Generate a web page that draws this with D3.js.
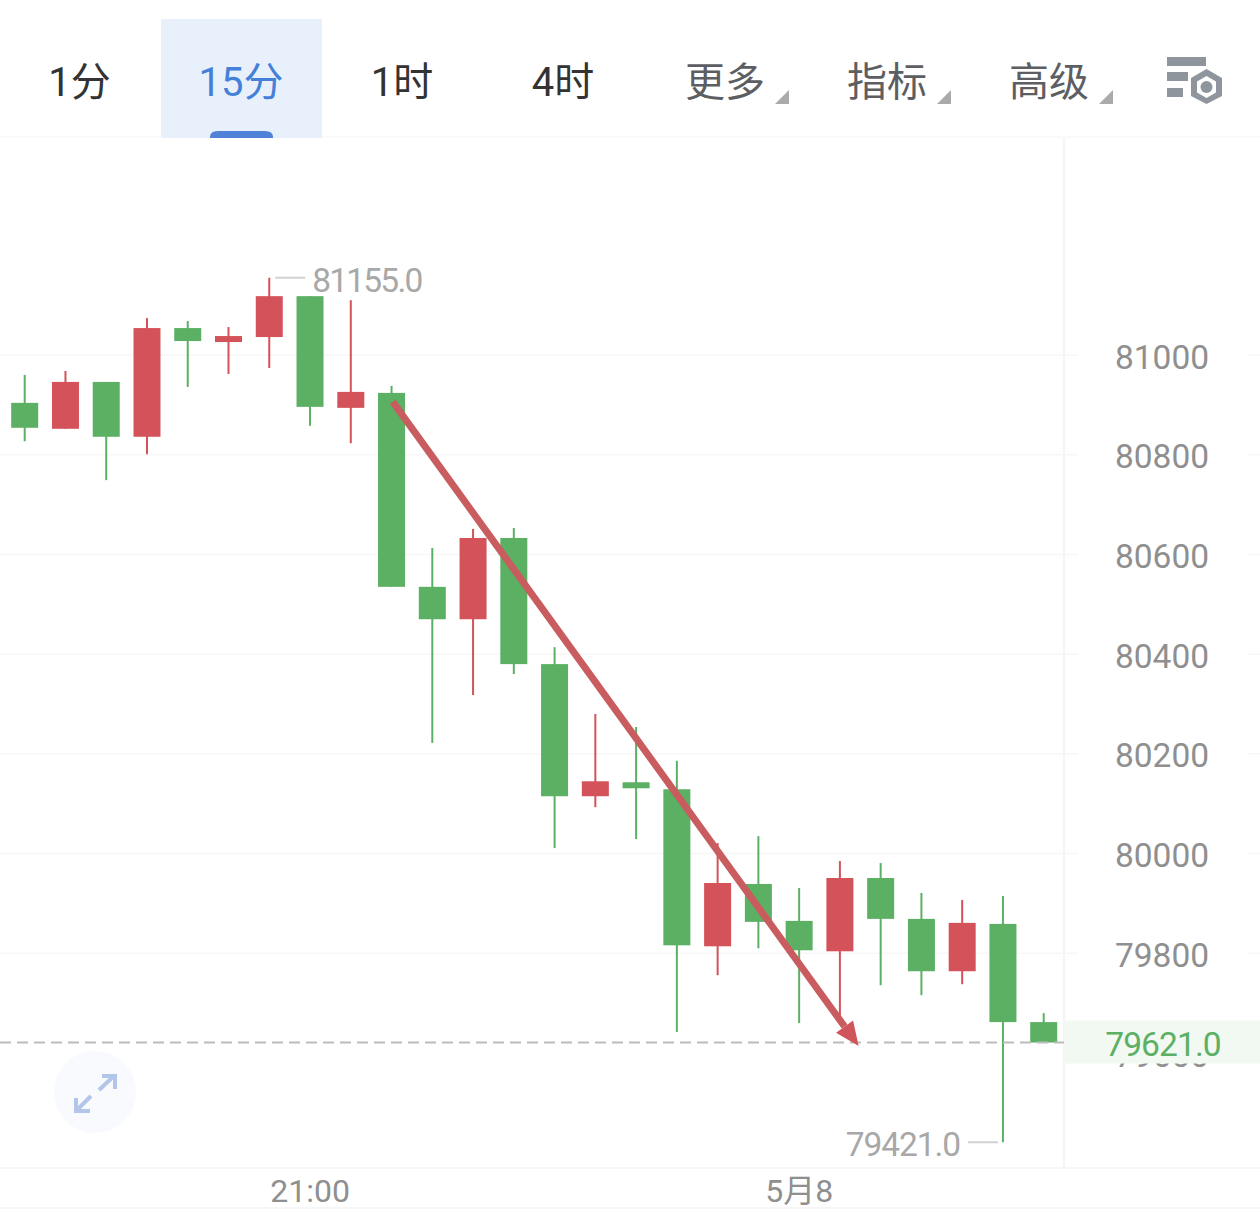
<!DOCTYPE html>
<html><head><meta charset="utf-8">
<script src="https://cdn.jsdelivr.net/npm/d3@7/dist/d3.min.js"></script>
<style>html,body{margin:0;padding:0;background:#fff;overflow:hidden}svg{display:block}text{font-family:Roboto,"Noto Sans CJK SC",sans-serif}</style>
</head><body><svg id="c" width="1260" height="1212"></svg>
<script>
const tabs = ["1分","15分","1时","4时","更多","指标","高级"];
const opens  = [80904,80852,80946,80836,81054,81026,81036,81118,80894,80924,80535,80470,80633,80380,80115,80143,80129,79814,79939,79865,79804,79951,79869,79764,79859,79662];
const highs  = [80960,80968,80946,81074,81068,81056,81155,81118,81110,80938,80613,80651,80653,80414,80280,80254,80186,80021,80035,79931,79985,79981,79921,79907,79915,79680];
const lows   = [80827,80852,80749,80801,80936,80962,80974,80858,80823,80535,80222,80318,80360,80011,80093,80029,79642,79756,79810,79660,79666,79736,79716,79738,79421,79621];
const closes = [80854,80946,80836,81054,81028,81038,81118,80896,80926,80535,80470,80633,80380,80115,80145,80131,79816,79941,79863,79806,79951,79869,79764,79861,79662,79621];
const yTicks = [81000,80800,80600,80400,80200,80000,79800,79600];
const gridTicks = [81000,80800,80600,80400,80200,80000,79800];
const timeTicks = [[7,"21:00"],[19,"5月8"]];
const lastPrice = 79621, highMark = 81155, lowMark = 79421;
const arrowFrom = [9.03,80906], arrowTo = [20.46,79614];

const GREEN="#5bb064", RED="#d4525a", GRID="#f7f7f7", AXIS="#8f8f8f", MARK="#a8a8a8";
const svg=d3.select("#c");
const x=d3.scaleLinear().domain([0,25]).range([24.7,1043.7]);
const y=d3.scaleLinear().domain([81000,79600]).range([355,1053]);
const line=(g,x1,y1,x2,y2,c,w)=>g.append("line").attr("x1",x1).attr("y1",y1).attr("x2",x2).attr("y2",y2).attr("stroke",c).attr("stroke-width",w);

// frame and grid
const grid=svg.append("g");
gridTicks.forEach(t=>{line(grid,0,y(t),1078,y(t),GRID,1.5);line(grid,1247,y(t),1260,y(t),GRID,1.5);});
line(grid,1064,138,1064,1168,"#f5f5f5",2.5);
line(grid,0,1168,1260,1168,"#f6f6f6",2);
line(grid,0,1208,1260,1208,"#f6f6f6",2);
line(grid,0,137,1260,137,"#fafafa",2);

// header
const h=svg.append("g");
h.append("rect").attr("x",161).attr("y",19).attr("width",161).attr("height",119).attr("fill","#e8f0fb");
h.append("path").attr("d","M210 138V137Q210 131 218 131H265Q273 131 273 137V138Z").attr("fill","#4f82d8");
const tabX=[79.500,241,402,563,725,887,1049];
const tabC=["#333","#4480d8","#333","#333","#5c5e62","#5c5e62","#5c5e62"];
tabs.forEach((t,i)=>h.append("text").attr("x",tabX[i]).attr("y",96).attr("text-anchor","middle").attr("font-size",40).attr("fill",tabC[i]).text(t));
[775,937,1099].forEach(a=>h.append("path").attr("d",`M${a} 104L${a+14} 90V104Z`).attr("fill","#aaaaaa"));
const ic="#8f959d";
[[1167,57,39],[1167,72,21],[1167,88,16]].forEach(b=>h.append("rect").attr("x",b[0]).attr("y",b[1]).attr("width",b[2]).attr("height",9).attr("fill",ic));
h.append("path").attr("d","M1206.500 69L1222 78V96L1206.500 104L1191 96V78Z").attr("fill",ic);
h.append("path").attr("d","M1206.500 76L1216 81.500V92.500L1206.500 98L1197 92.500V81.500Z").attr("fill","#fff");
h.append("circle").attr("cx",1206.500).attr("cy",87).attr("r",6).attr("fill",ic);

// candles
const c=svg.append("g");
opens.forEach((o,i)=>{
  const col=closes[i]>=o?RED:GREEN;
  const top=Math.max(o,closes[i]),bot=Math.min(o,closes[i]);
  line(c,x(i),y(highs[i]),x(i),y(lows[i]),col,2);
  c.append("rect").attr("x",x(i)-13.5).attr("y",y(top)).attr("width",27).attr("height",y(bot)-y(top)).attr("fill",col);
});

// y axis labels
const yAxis=svg.append("g");
yTicks.forEach(t=>yAxis.append("text").attr("x",1162).attr("y",y(t)+13.5).attr("text-anchor","middle").attr("font-size",33.5).attr("fill",AXIS).text(t));

// current price
svg.append("rect").attr("x",1064).attr("y",y(lastPrice)-22).attr("width",196).attr("height",43).attr("fill","#f1f9f2");
line(svg,0,y(lastPrice),1064,y(lastPrice),"#bcbcbc",2).attr("stroke-dasharray","11 6");
svg.append("text").attr("x",1163).attr("y",y(lastPrice)+13).attr("text-anchor","middle").attr("font-size",33.5).attr("letter-spacing",-0.9).attr("fill",GREEN).text(lastPrice.toFixed(1));

// high/low marks
const iHi=highs.indexOf(highMark), iLo=lows.indexOf(lowMark);
line(svg,x(iHi)+6,y(highMark),x(iHi)+36,y(highMark),"#d2d2d2",2);
svg.append("text").attr("x",x(iHi)+43).attr("y",y(highMark)+14).attr("font-size",33.5).attr("letter-spacing",-1.8).attr("fill",MARK).text(highMark.toFixed(1));
line(svg,x(iLo)-35,y(lowMark),x(iLo)-5,y(lowMark),"#d2d2d2",2);
svg.append("text").attr("x",x(iLo)-43).attr("y",y(lowMark)+14).attr("text-anchor","end").attr("font-size",33.5).attr("letter-spacing",-1.1).attr("fill",MARK).text(lowMark.toFixed(1));

// time axis
timeTicks.forEach(t=>svg.append("text").attr("x",x(t[0])).attr("y",1202).attr("text-anchor","middle").attr("font-size",32).attr("fill",AXIS).text(t[1]));

// expand button
svg.append("circle").attr("cx",95).attr("cy",1092).attr("r",41).attr("fill","#f8fafe");
svg.append("path").attr("d","M99 1090L115 1075M102 1076H115V1089M91 1096L76 1111M76 1098V1111H90").attr("fill","none").attr("stroke","#b3c5e8").attr("stroke-width",4);

// arrow annotation
const ax1=x(arrowFrom[0]),ay1=y(arrowFrom[1]),ax2=x(arrowTo[0]),ay2=y(arrowTo[1]);
const ang=Math.atan2(ay2-ay1,ax2-ax1),hl=24,hw=10.500;
const bx=ax2-hl*Math.cos(ang),by=ay2-hl*Math.sin(ang);
line(svg,ax1,ay1,bx,by,"#c85c5e",7);
svg.append("path").attr("d",`M${ax2} ${ay2}L${bx-hw*Math.sin(ang)} ${by+hw*Math.cos(ang)}L${bx+hw*Math.sin(ang)} ${by-hw*Math.cos(ang)}Z`).attr("fill","#d0555a");
</script></body></html>
